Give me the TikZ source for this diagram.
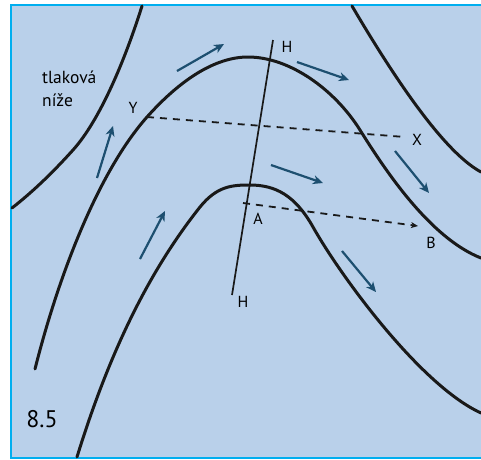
\documentclass[tikz,border=0pt]{standalone}
\usepackage{fontspec}
\setmainfont{PT Sans}
\usetikzlibrary{arrows.meta}
\definecolor{bgblue}{HTML}{B9D0EA}
\definecolor{framecyan}{HTML}{00AEEF}
\definecolor{flowblue}{HTML}{1D4F70}
\tikzset{
  isobar/.style={line width=3pt, black!90, line cap=round, line join=round},
  axisline/.style={line width=1.7pt, black!90},
  dashline/.style={line width=1.8pt, black!90, dash pattern=on 7pt off 6pt},
  flow/.style={line width=2.2pt, flowblue, -{Stealth[length=10pt,width=9pt,inset=3pt]}},
  lbl/.style={font=\fontsize{16}{18}\selectfont, inner sep=0pt},
}
\begin{document}
\begin{tikzpicture}[x=1pt,y=-1pt]
\useasboundingbox (0,0) rectangle (481,459);
\fill[bgblue] (10,5) rectangle (481,458);
\draw[framecyan, line width=2pt] (481,5) -- (11,5) -- (11,457.5) -- (481,457.5);
% isobars
\draw[isobar] (142,6) .. controls (125,60) and (100,120) .. (73,150)
  .. controls (55,170) and (35,190) .. (12,208);
\draw[isobar] (35,369) .. controls (60,270) and (100,170) .. (147,117)
  .. controls (180,80) and (215,57) .. (248,57)
  .. controls (290,57) and (335,90) .. (360,130)
  .. controls (385,170) and (430,238) .. (481,258);
\draw[isobar] (77,457) .. controls (110,350) and (150,270) .. (200,207)
  .. controls (217,186) and (232,185) .. (250,185)
  .. controls (275,185) and (295,195) .. (313,227)
  .. controls (340,275) and (420,385) .. (481,413);
\draw[isobar] (352,6) .. controls (385,62) and (440,150) .. (481,172);
% axis H-H
\coordinate (Ht) at (273,40);
\coordinate (Hb) at (232,295);
\draw[axisline] (Ht) -- (Hb);
% dashed lines
\coordinate (Yp) at (147,117);
\coordinate (Xp) at (405,137);
\coordinate (Ap) at (243,203);
\coordinate (Bp) at (418,226);
\draw[dashline] (Yp) -- (Xp);
\draw[dashline, -{Stealth[length=7pt,width=6pt,inset=2pt]}] (Ap) -- (Bp);
% flow arrows
\coordinate (f1a) at (177,71);  \coordinate (f1b) at (224,44);
\coordinate (f2a) at (297,62);  \coordinate (f2b) at (349,80);
\coordinate (f3a) at (97,178);  \coordinate (f3b) at (113,126);
\coordinate (f4a) at (271,165); \coordinate (f4b) at (323,183);
\coordinate (f5a) at (395,151); \coordinate (f5b) at (429,193);
\coordinate (f6a) at (140,259); \coordinate (f6b) at (165,211);
\coordinate (f7a) at (342,251); \coordinate (f7b) at (376,292);
\draw[flow] (f1a) -- (f1b);
\draw[flow] (f2a) -- (f2b);
\draw[flow] (f3a) -- (f3b);
\draw[flow] (f4a) -- (f4b);
\draw[flow] (f5a) -- (f5b);
\draw[flow] (f6a) -- (f6b);
\draw[flow] (f7a) -- (f7b);
% labels
\node[lbl] (lHt) at (287,47) {H};
\node[lbl] (lHb) at (243,302) {H};
\node[lbl] (lY) at (133,108) {Y};
\node[lbl] (lX) at (417,140) {X};
\node[lbl] (lA) at (258,219) {A};
\node[lbl] (lB) at (431,243) {B};
\node[lbl, anchor=west, align=left, font=\fontsize{17.5}{22.5}\selectfont] (low) at (42,89) {tlaková\\níže};
\node[lbl, font=\fontsize{24}{26}\selectfont] (num) at (42,419) {8.5};
\end{tikzpicture}
\end{document}
